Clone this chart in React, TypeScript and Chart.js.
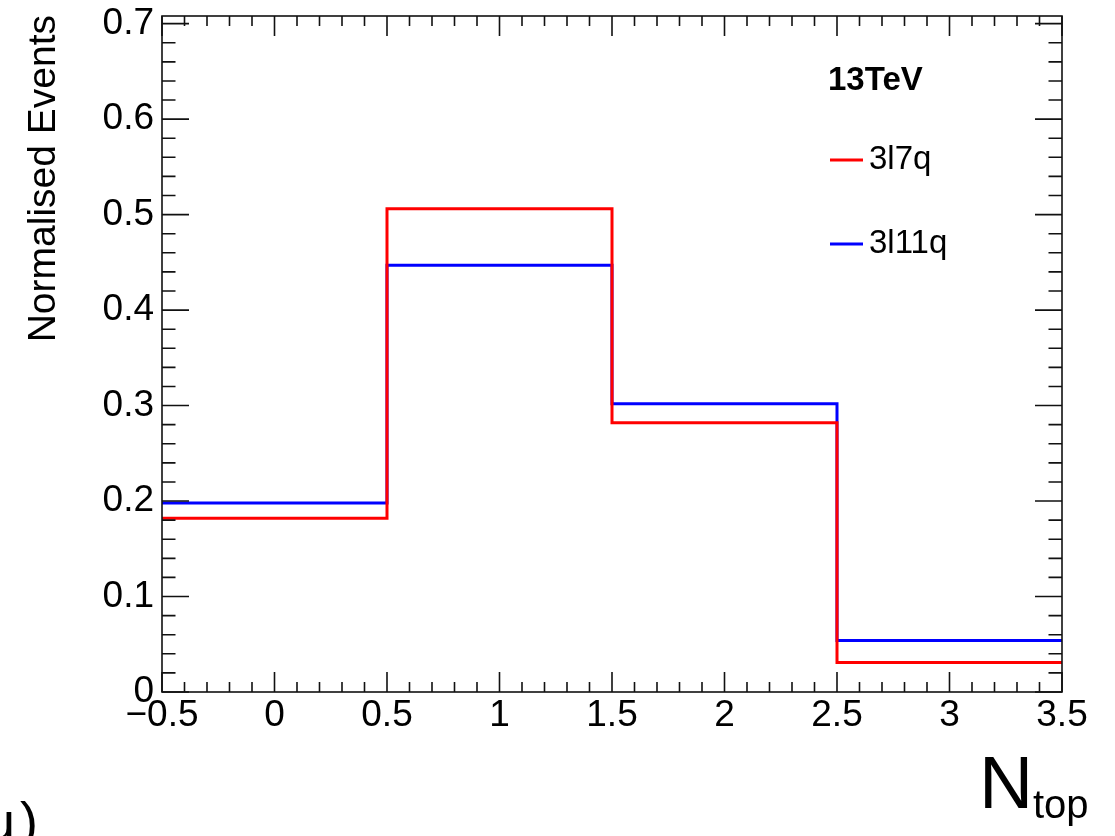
import React, { useEffect, useRef } from "react";
import { Chart, registerables } from "chart.js";

Chart.register(...registerables);

// ---- data ----
const binEdges = [-0.5, 0.5, 1.5, 2.5, 3.5];
const values3l7q = [0.182, 0.506, 0.282, 0.031];
const values3l11q = [0.198, 0.447, 0.302, 0.054];
const seriesLabels = ["3l7q", "3l11q"];
const seriesColors = ["#ff0000", "#0000ff"];
const energyLabel = "13TeV";
const yTitle = "Normalised Events";
const xTitleMain = "N";
const xTitleSub = "top";
const X_MIN = -0.5;
const X_MAX = 3.5;
const Y_MIN = 0;
const Y_MAX = 0.708;
const X_MAJOR_STEP = 0.5;
const Y_MAJOR_STEP = 0.1;
const X_MINOR_DIV = 5;
const Y_MINOR_DIV = 5;

const FONT = "'Liberation Sans', Arial, Helvetica, sans-serif";

function histPoints(values: number[]) {
  const pts = values.map((v, i) => ({ x: binEdges[i], y: v }));
  pts.push({ x: binEdges[binEdges.length - 1], y: values[values.length - 1] });
  return pts;
}

function fmtTick(v: number) {
  const r = Math.round(v * 10) / 10;
  if (Math.abs(r) < 1e-9) return "0";
  const s = Number.isInteger(r) ? String(Math.abs(r)) : Math.abs(r).toFixed(1);
  return (r < 0 ? "\u2212" : "") + s;
}

const rootAxesPlugin = {
  id: "rootAxes",
  afterDatasetsDraw(chart: any) {
    const { ctx, chartArea } = chart;
    const { left, right, top, bottom } = chartArea;
    const xs = chart.scales.x;
    const ys = chart.scales.y;
    ctx.save();
    ctx.strokeStyle = "#111";
    ctx.lineWidth = 1.6;
    ctx.strokeRect(left, top, right - left, bottom - top);
    ctx.beginPath();
    const xMinor = X_MAJOR_STEP / X_MINOR_DIV;
    const nx = Math.round((X_MAX - X_MIN) / xMinor);
    for (let k = 0; k <= nx; k++) {
      const v = X_MIN + k * xMinor;
      const px = xs.getPixelForValue(v);
      const len = k % X_MINOR_DIV === 0 ? 20 : 10;
      ctx.moveTo(px, bottom);
      ctx.lineTo(px, bottom - len);
      ctx.moveTo(px, top);
      ctx.lineTo(px, top + len);
    }
    const yMinor = Y_MAJOR_STEP / Y_MINOR_DIV;
    const ny = Math.floor((Y_MAX - Y_MIN) / yMinor + 1e-6);
    for (let k = 0; k <= ny; k++) {
      const v = Y_MIN + k * yMinor;
      const py = ys.getPixelForValue(v);
      const len = k % Y_MINOR_DIV === 0 ? 27 : 13.5;
      ctx.moveTo(left, py);
      ctx.lineTo(left + len, py);
      ctx.moveTo(right, py);
      ctx.lineTo(right - len, py);
    }
    ctx.stroke();
    ctx.restore();
  },
  afterDraw(chart: any) {
    const { ctx } = chart;
    ctx.save();
    ctx.fillStyle = "#000";
    // y title
    ctx.save();
    ctx.translate(55, 15);
    ctx.rotate(-Math.PI / 2);
    ctx.font = `39px ${FONT}`;
    ctx.textAlign = "right";
    ctx.textBaseline = "alphabetic";
    ctx.fillText(yTitle, 0, 0);
    ctx.restore();
    // x title
    ctx.textAlign = "left";
    ctx.textBaseline = "alphabetic";
    ctx.font = `75px ${FONT}`;
    ctx.fillText(xTitleMain, 979, 808);
    ctx.font = `40px ${FONT}`;
    ctx.fillText(xTitleSub, 1033, 818);
    // clipped caption fragment bottom-left
    ctx.font = `54px ${FONT}`;
    ctx.fillText("u", -15, 840);
    ctx.fillText(")", 20, 840);
    // energy label
    ctx.font = `bold 33px ${FONT}`;
    ctx.fillText(energyLabel, 828, 90);
    // legend
    const ds = chart.data.datasets;
    const rowsY = [160, 244];
    ds.forEach((d: any, i: number) => {
      const yy = rowsY[i];
      ctx.strokeStyle = d.borderColor;
      ctx.lineWidth = 3;
      ctx.beginPath();
      ctx.moveTo(830, yy);
      ctx.lineTo(863, yy);
      ctx.stroke();
      ctx.fillStyle = "#000";
      ctx.font = `33px ${FONT}`;
      ctx.textBaseline = "middle";
      ctx.fillText(d.label, 869, yy);
    });
    ctx.restore();
  },
};

export default function App() {
  const ref = useRef<HTMLCanvasElement | null>(null);
  useEffect(() => {
    if (!ref.current) return;
    const chart = new Chart(ref.current, {
      type: "line",
      data: {
        datasets: [
          {
            label: seriesLabels[0],
            data: histPoints(values3l7q),
            borderColor: seriesColors[0],
            backgroundColor: seriesColors[0],
            borderWidth: 3,
            stepped: "before",
            pointRadius: 0,
            fill: false,
          },
          {
            label: seriesLabels[1],
            data: histPoints(values3l11q),
            borderColor: seriesColors[1],
            backgroundColor: seriesColors[1],
            borderWidth: 3,
            stepped: "before",
            pointRadius: 0,
            fill: false,
          },
        ],
      },
      options: {
        animation: false,
        responsive: false,
        maintainAspectRatio: false,
        devicePixelRatio: 1,
        events: [],
        layout: { padding: { left: 0, top: 16, right: 53, bottom: 0 } },
        plugins: { legend: { display: false }, tooltip: { enabled: false } },
        scales: {
          x: {
            type: "linear",
            min: X_MIN,
            max: X_MAX,
            grid: { display: false, drawTicks: false },
            border: { display: false },
            ticks: {
              stepSize: X_MAJOR_STEP,
              autoSkip: false,
              maxRotation: 0,
              minRotation: 0,
              includeBounds: false,
              padding: 2,
              color: "#000",
              font: { family: FONT, size: 37 },
              callback: (v: any) => fmtTick(Number(v)),
            },
            afterFit: (s: any) => {
              s.height = 144;
              s.paddingLeft = 0;
              s.paddingRight = 0;
            },
          },
          y: {
            type: "linear",
            min: Y_MIN,
            max: Y_MAX,
            grid: { display: false, drawTicks: false },
            border: { display: false },
            ticks: {
              stepSize: Y_MAJOR_STEP,
              includeBounds: false,
              padding: 8,
              color: "#000",
              font: { family: FONT, size: 37 },
              callback: (v: any) => fmtTick(Number(v)),
            },
            afterFit: (s: any) => {
              s.width = 162;
              s.paddingTop = 0;
              s.paddingBottom = 0;
            },
          },
        },
      } as any,
      plugins: [rootAxesPlugin],
    });
    return () => chart.destroy();
  }, []);
  return (
    <div style={{ position: "absolute", left: 0, top: 0, width: 1115, height: 836, background: "#fff" }}>
      <canvas ref={ref} width={1115} height={836} style={{ display: "block", width: 1115, height: 836 }} />
    </div>
  );
}
